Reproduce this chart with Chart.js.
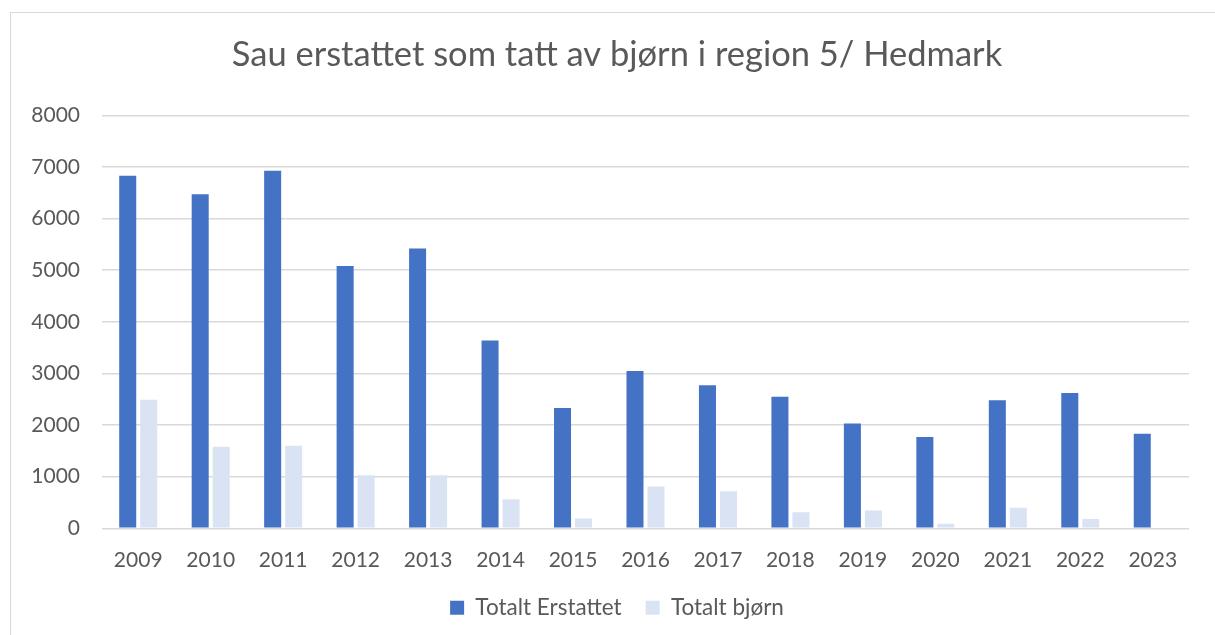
<!DOCTYPE html>
<html>
<head>
<meta charset="utf-8">
<script src="https://cdn.jsdelivr.net/npm/chart.js@4.4.1/dist/chart.umd.min.js"></script>
<style>
  html, body { margin: 0; padding: 0; background: #ffffff; overflow: hidden; }
  #wrap { position: relative; width: 1215px; height: 635px; overflow: hidden; }
  #frame { position: absolute; left: 10px; top: 12px; width: 1220px; height: 640px; border: 1px solid #d9d9d9; box-sizing: border-box; }
  canvas { position: absolute; left: 0; top: 0; }
</style>
</head>
<body>
<div id="wrap">
  <div id="frame"></div>
  <canvas id="c" width="1234" height="635"></canvas>
</div>
<script>
const titleText = 'Sau erstattet som tatt av bjørn i region 5/ Hedmark';
const categories = ['2009','2010','2011','2012','2013','2014','2015','2016','2017','2018','2019','2020','2021','2022','2023'];
const totaltErstattet = [6830, 6470, 6930, 5080, 5420, 3640, 2330, 3050, 2770, 2550, 2030, 1770, 2480, 2620, 1830];
const totaltBjorn = [2490, 1580, 1600, 1030, 1030, 565, 190, 810, 720, 310, 345, 90, 400, 180, 0];
const seriesNames = ['Totalt Erstattet', 'Totalt bjørn'];
const yTicks = [0, 1000, 2000, 3000, 4000, 5000, 6000, 7000, 8000];

const FONT = 'Lato';
const TXT = '#595959';

new Chart(document.getElementById('c'), {
  type: 'bar',
  data: {
    labels: categories,
    datasets: [
      { label: seriesNames[0], data: totaltErstattet, backgroundColor: '#4472c4', borderWidth: 0,
        categoryPercentage: 0.58, barPercentage: 0.81 },
      { label: seriesNames[1], data: totaltBjorn, backgroundColor: '#dae3f3', borderWidth: 0,
        categoryPercentage: 0.58, barPercentage: 0.81 }
    ]
  },
  options: {
    responsive: false,
    animation: false,
    devicePixelRatio: 1,
    layout: { padding: { left: 0, right: 0, top: 0, bottom: 6 } },
    plugins: {
      title: {
        display: true, text: titleText, color: TXT,
        font: { family: FONT, size: 34.5, weight: 'normal' },
        padding: { top: 34, bottom: 40 }
      },
      legend: {
        display: true, position: 'bottom',
        labels: { color: TXT, font: { family: FONT, size: 22.5 }, boxWidth: 14, boxHeight: 14, padding: 24 }
      },
      tooltip: { enabled: false }
    },
    scales: {
      x: {
        grid: { display: true, drawOnChartArea: false, drawTicks: true, tickLength: 19, tickColor: 'rgba(0,0,0,0)', color: 'rgba(0,0,0,0)' },
        border: { display: false },
        ticks: { color: TXT, font: { family: FONT, size: 21 }, padding: 0, maxRotation: 0 }
      },
      y: {
        min: 0, max: 8000,
        afterFit(scale) { scale.width = 102; },
        afterBuildTicks(scale) { scale.ticks = yTicks.map(v => ({ value: v })); },
        grid: { color: '#d9d9d9', lineWidth: 1.5, drawTicks: false },
        border: { display: false },
        ticks: { color: TXT, font: { family: FONT, size: 21 }, padding: 22, callback: v => String(v) }
      },
      yRight: {
        position: 'right',
        display: true,
        afterFit(scale) { scale.width = 45; },
        grid: { display: false, drawTicks: false },
        border: { display: false },
        ticks: { display: false }
      }
    }
  }
});
</script>
</body>
</html>
